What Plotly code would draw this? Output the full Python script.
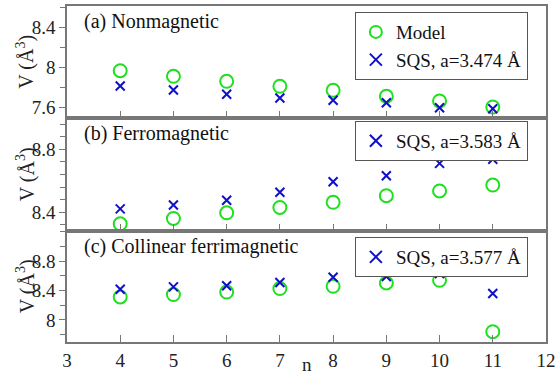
import plotly.graph_objects as go
from plotly.subplots import make_subplots

n = [4, 5, 6, 7, 8, 9, 10, 11]
model_a = [7.963, 7.907, 7.857, 7.807, 7.767, 7.707, 7.660, 7.600]
sqs_a = [7.810, 7.770, 7.727, 7.690, 7.667, 7.643, 7.593, 7.583]
model_b = [8.326, 8.360, 8.396, 8.430, 8.463, 8.505, 8.535, 8.573]
sqs_b = [8.421, 8.446, 8.476, 8.527, 8.594, 8.632, 8.711, 8.737]
model_c = [8.313, 8.346, 8.380, 8.427, 8.458, 8.503, 8.540, 7.840]
sqs_c = [8.418, 8.450, 8.465, 8.510, 8.580, 8.590, 8.630, 8.360]

x_ticks = [3, 4, 5, 6, 7, 8, 9, 10, 11, 12]
panel_labels = ["(a) Nonmagnetic", "(b) Ferromagnetic", "(c) Collinear ferrimagnetic"]
sqs_names = ["SQS, a=3.474 Å", "SQS, a=3.583 Å", "SQS, a=3.577 Å"]
y_title = "V (Å<sup>3</sup>)"
x_title = "n"

FONT = "'Liberation Serif', 'Times New Roman', Times, serif"
GREEN = "#1ee01e"
BLUE = "#1010c8"
AX = "#777777"
TXT = "#222222"

fig = make_subplots(rows=3, cols=1, shared_xaxes=True, vertical_spacing=0,
                    row_heights=[112, 113, 111])

legends = ["legend", "legend2", "legend3"]
models = [model_a, model_b, model_c]
sqss = [sqs_a, sqs_b, sqs_c]
for i in range(3):
    fig.add_trace(go.Scatter(x=n, y=models[i], mode="markers", name="Model",
                             marker=dict(symbol="circle-open", size=13, color=GREEN,
                                         line=dict(width=2, color=GREEN)),
                             legend=legends[i], showlegend=(i == 0)), row=i + 1, col=1)
    fig.add_trace(go.Scatter(x=n, y=sqss[i], mode="markers", name=sqs_names[i],
                             marker=dict(symbol="x-thin-open", size=9, color=BLUE,
                                         line=dict(width=2, color=BLUE)),
                             legend=legends[i]), row=i + 1, col=1)

yranges = [[7.49, 8.61], [8.28, 9.0], [7.70, 9.21]]
ytickvals = [[7.6, 8.0, 8.4], [8.4, 8.8], [8.0, 8.4, 8.8]]
yticktext = [["7.6", "8", "8.4"], ["8.4", "8.8"], ["8", "8.4", "8.8"]]
minor_dt = [0.2, 0.08, 0.2]

for i in range(3):
    fig.update_yaxes(row=i + 1, col=1, range=yranges[i], tickvals=ytickvals[i],
                     ticktext=yticktext[i], ticks="outside", ticklen=6, tickwidth=1,
                     tickcolor=AX, showline=True, linecolor=AX, linewidth=1.5, mirror=True,
                     showgrid=False, zeroline=False, automargin=False,
                     minor=dict(ticks="outside", ticklen=5, tickcolor=AX, dtick=minor_dt[i],
                                tick0=8.0 if i != 1 else 8.4, showgrid=False),
                     tickfont=dict(family=FONT, size=19, color=TXT))
    fig.update_xaxes(row=i + 1, col=1, range=[3, 12], tickvals=x_ticks,
                     ticks="inside", ticklen=7, tickcolor=AX, showline=True, linecolor=AX,
                     linewidth=1.5, mirror=True, showgrid=False, zeroline=False,
                     showticklabels=(i == 2), automargin=False,
                     tickfont=dict(family=FONT, size=19, color=TXT))

yrefs = ["y domain", "y2 domain", "y3 domain"]
xrefs = ["x domain", "x2 domain", "x3 domain"]
for i in range(3):
    fig.add_annotation(text=panel_labels[i], xref=xrefs[i], yref=yrefs[i], x=0.031, y=0.985,
                       xanchor="left", yanchor="top", showarrow=False,
                       font=dict(family=FONT, size=20, color="#111"))
    fig.add_annotation(text=y_title, xref="paper", yref=yrefs[i], x=-0.086, y=0.5,
                       xanchor="center", yanchor="middle", textangle=-90, showarrow=False,
                       font=dict(family=FONT, size=20, color=TXT))

fig.add_annotation(text=x_title, xref="paper", yref="paper", x=0.501, y=-0.068,
                   xanchor="center", yanchor="middle", showarrow=False,
                   font=dict(family=FONT, size=19, color=TXT))

leg_style = dict(xref="paper", yref="paper", xanchor="left", yanchor="top",
                 bordercolor="#555", borderwidth=1, bgcolor="white",
                 font=dict(family=FONT, size=19, color="#111"),
                 itemsizing="constant", tracegroupgap=0)
fig.update_layout(
    legend=dict(x=0.601, y=0.982, **leg_style),
    legend2=dict(x=0.601, y=0.658, **leg_style),
    legend3=dict(x=0.601, y=0.3125, **leg_style),
)

fig.update_layout(width=559, height=378, margin=dict(l=67, r=13, t=6, b=36),
                  plot_bgcolor="white", paper_bgcolor="white",
                  font=dict(family=FONT, color=TXT))

fig.write_html("out.html")
